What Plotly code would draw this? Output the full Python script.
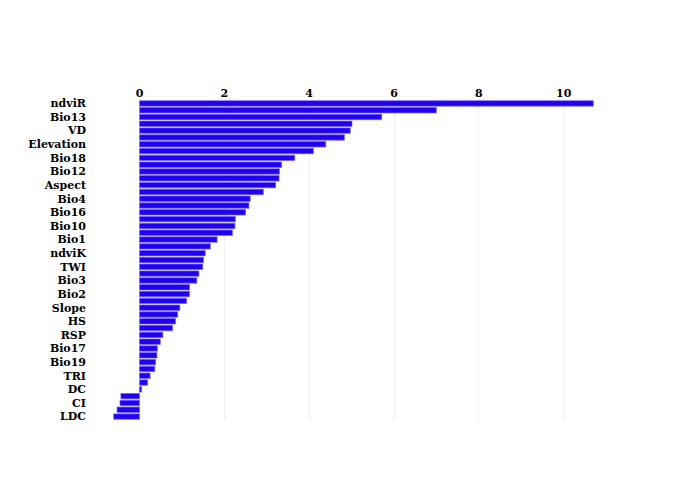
import plotly.graph_objects as go

features = ["ndviR", "Bio5", "Bio13", "Bio14", "VD", "Bio6", "Elevation", "Bio7",
            "Bio18", "Bio8", "Bio12", "Bio9", "Aspect", "Bio11", "Bio4", "Bio15",
            "Bio16", "ndviG", "Bio10", "ndviB", "Bio1", "TPI", "ndviK", "VRM",
            "TWI", "Curvature", "Bio3", "Plan", "Bio2", "Profile", "Slope", "LS",
            "HS", "MRVBF", "RSP", "CNBL", "Bio17", "VDCN", "Bio19", "FA",
            "TRI", "CA", "DC", "SWI", "CI", "CD", "LDC"]
importance = [10.70, 7.00, 5.71, 5.01, 4.97, 4.83, 4.39, 4.10,
              3.66, 3.35, 3.30, 3.29, 3.21, 2.92, 2.61, 2.58,
              2.50, 2.26, 2.25, 2.19, 1.83, 1.67, 1.55, 1.51,
              1.49, 1.40, 1.35, 1.18, 1.18, 1.11, 0.95, 0.90,
              0.85, 0.78, 0.55, 0.49, 0.42, 0.41, 0.38, 0.36,
              0.25, 0.19, 0.05, -0.44, -0.46, -0.53, -0.61]

font = dict(family="DejaVu Serif", size=11, color="#000000", weight="bold")

fig = go.Figure(go.Bar(
    x=importance, y=features, orientation="h",
    marker=dict(color="#2200ee", line=dict(color="rgba(110,100,255,0.7)", width=1)),
))
fig.update_layout(
    template="plotly_white",
    width=700, height=500,
    showlegend=False,
    font=font,
    margin=dict(t=92, b=88, r=88, l=79),
)
fig.update_xaxes(side="top", tickfont=font, showgrid=True, gridcolor="#EBF0F8",
                 zeroline=False, dtick=2, automargin=False)
fig.update_yaxes(autorange="reversed", tickfont=font, showgrid=False, automargin=False)
fig.write_html("out.html")
